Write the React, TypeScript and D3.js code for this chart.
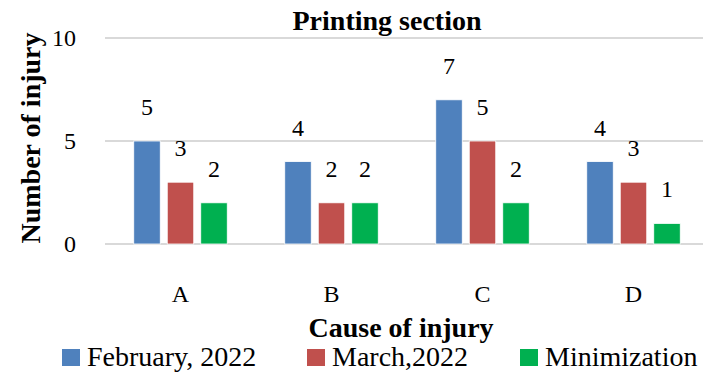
import React from "react";
import * as d3 from "d3";

const categories = ["A", "B", "C", "D"];
const seriesNames = ["February, 2022", "March,2022", "Minimization"];
const february = [5, 4, 7, 4];
const march = [3, 2, 5, 3];
const minimization = [2, 2, 2, 1];
const yTicks = [0, 5, 10];
const colors = ["#4f81bd", "#c0504d", "#00b050"];

const W = 703;
const H = 372;
const FONT = "'Liberation Serif', 'Times New Roman', serif";
const fs = { fontFamily: FONT };

export default function App() {
  const series = [february, march, minimization];
  const x = d3.scaleBand<string>().domain(categories).range([105, 709]).paddingInner(0).paddingOuter(0);
  const y = d3.scaleLinear().domain([0, 10]).range([244, 38]);
  const barW = 26.5;
  const step = 33.5;

  return (
    <svg width={W} height={H} style={{ position: "absolute", left: 0, top: 0, background: "#fff" }}>
      {yTicks.map((t) => (
        <g key={t}>
          <line x1={105} x2={W} y1={y(t)} y2={y(t)} stroke="#d9d9d9" strokeWidth={2} />
          <text x={76} y={y(t)} dy="0.33em" textAnchor="end" fontSize={24} fill="#000" style={fs}>
            {t}
          </text>
        </g>
      ))}
      {categories.map((c, i) => {
        const cx = (x(c) as number) + x.bandwidth() / 2;
        return (
          <g key={c}>
            {series.map((s, j) => {
              const bx = cx + (j - 1) * step - barW / 2;
              return (
                <g key={j}>
                  <rect x={bx} y={y(s[i])} width={barW} height={y(0) - y(s[i])} fill={colors[j]} stroke="#fff" strokeWidth={0.8} />
                  <text x={bx + barW / 2} y={y(s[i]) - 34} dy="0.33em" textAnchor="middle" fontSize={24} fill="#000" style={fs}>
                    {s[i]}
                  </text>
                </g>
              );
            })}
            <text x={cx} y={302} textAnchor="middle" fontSize={24} fill="#000" style={fs}>
              {c}
            </text>
          </g>
        );
      })}
      <text x={387} y={30} textAnchor="middle" fontSize={28} fontWeight="bold" fill="#000" style={fs}>
        Printing section
      </text>
      <text transform="translate(40,138) rotate(-90)" textAnchor="middle" fontSize={28} fontWeight="bold" fill="#000" style={fs}>
        Number of injury
      </text>
      <text x={401} y={337} textAnchor="middle" fontSize={28} fontWeight="bold" fill="#000" style={fs}>
        Cause of injury
      </text>
      {seriesNames.map((n, j) => {
        const lx = [62, 307, 520][j];
        return (
          <g key={n}>
            <rect x={lx} y={349} width={18} height={17} fill={colors[j]} />
            <text x={lx + 25} y={366} fontSize={28} fill="#000" style={fs}>
              {n}
            </text>
          </g>
        );
      })}
    </svg>
  );
}
